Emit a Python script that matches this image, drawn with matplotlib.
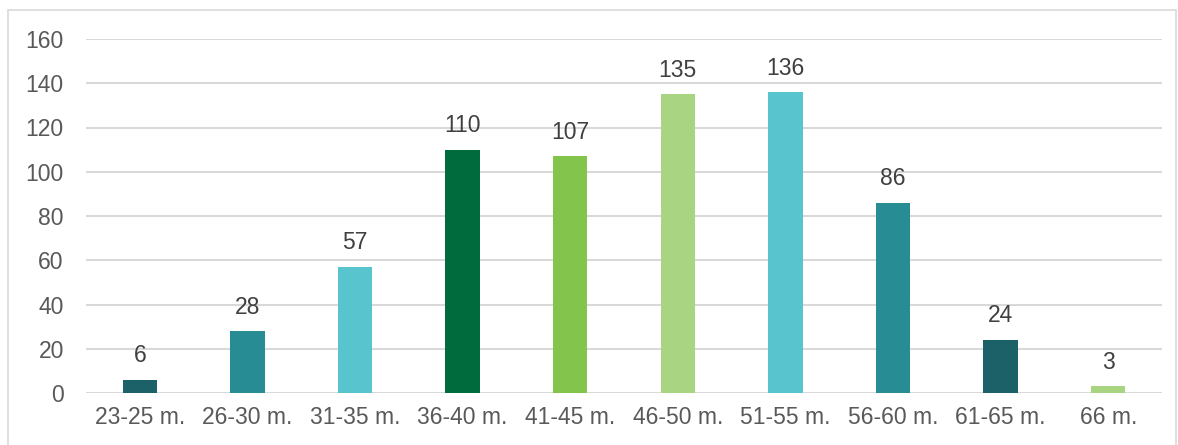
import matplotlib
matplotlib.use("Agg")
import matplotlib.pyplot as plt
from matplotlib.patches import Rectangle

plt.rcParams['font.family'] = ['Liberation Sans', 'DejaVu Sans']

categories = ['23-25 m.', '26-30 m.', '31-35 m.', '36-40 m.', '41-45 m.',
              '46-50 m.', '51-55 m.', '56-60 m.', '61-65 m.', '66 m.']
values = [6, 28, 57, 110, 107, 135, 136, 86, 24, 3]
colors = ['#1D6168', '#288C95', '#57C4CE', '#006C3D', '#82C44C',
          '#A9D582', '#57C4CE', '#288C95', '#1D6168', '#A9D582']

fig = plt.figure(figsize=(11.78, 4.45), dpi=100)
# outer chart border
fig.patches.append(Rectangle((8 / 1178, -0.05), 1168 / 1178, 1.05 - 10 / 445,
                             transform=fig.transFigure, fill=False,
                             edgecolor='#D9D9D9', linewidth=1.2))

ax = fig.add_axes([86 / 1178, 1 - 393 / 445, 1076 / 1178, 354 / 445])
x = range(len(categories))
ax.bar(x, values, width=0.32, color=colors, zorder=3)

for i, v in enumerate(values):
    ax.annotate(str(v), (i, v), xytext=(0, 9), textcoords='offset points',
                ha='center', va='bottom', fontsize=16.5, color='#404040')

ax.set_xlim(-0.5, len(categories) - 0.5)
ax.set_ylim(0, 160)
ax.set_yticks(range(0, 161, 20))
ax.set_xticks(list(x))
ax.set_xticklabels(categories)
ax.tick_params(axis='both', length=0, labelsize=16.5, labelcolor='#595959')
ax.tick_params(axis='y', pad=16)
ax.tick_params(axis='x', pad=9)
ax.grid(axis='y', color='#D9D9D9', linewidth=1.5, zorder=0)
for s in ax.spines.values():
    s.set_visible(False)

fig.savefig('out.png', dpi=100)
